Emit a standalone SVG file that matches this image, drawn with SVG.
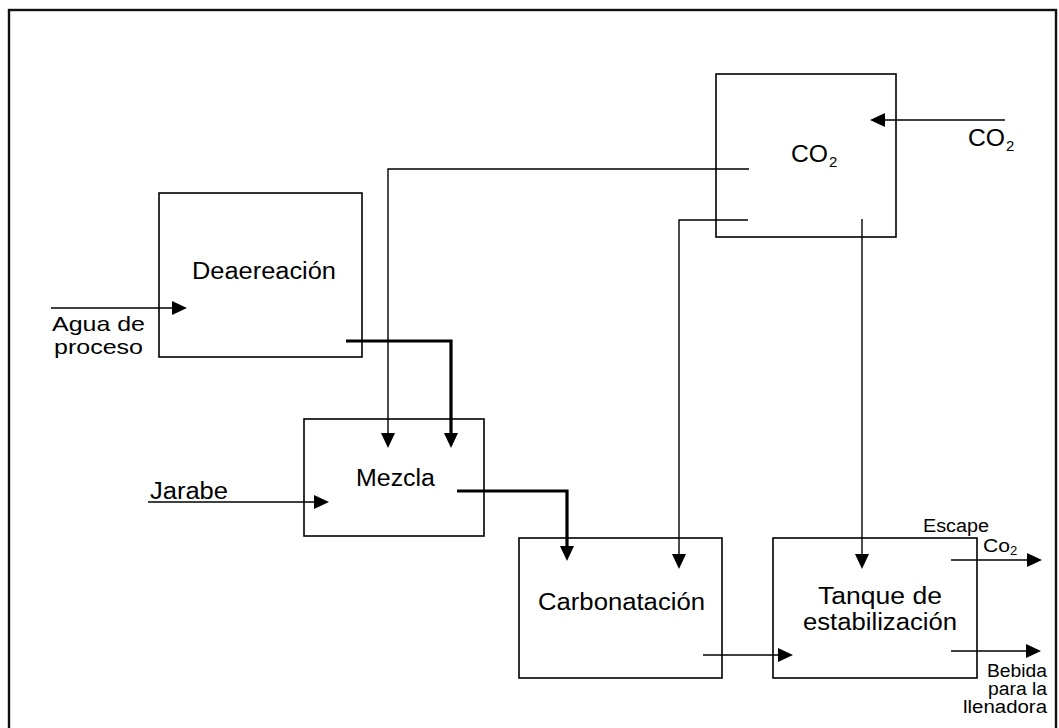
<svg xmlns="http://www.w3.org/2000/svg" width="1059" height="728" viewBox="0 0 1059 728">
<style>
.box{fill:none;stroke:#000;stroke-width:1.6}
.c{fill:none;stroke:#000;stroke-width:1.4}
.t{fill:none;stroke:#000;stroke-width:3.2}
.lbl{font-family:"Liberation Sans",Arial,sans-serif;font-size:23px;fill:#000}
.side{font-family:"Liberation Sans",Arial,sans-serif;font-size:21px;fill:#000}
.sm{font-family:"Liberation Sans",Arial,sans-serif;font-size:18px;fill:#000}
.sub{font-family:"Liberation Sans",Arial,sans-serif;font-size:15px;fill:#000}
.subs{font-family:"Liberation Sans",Arial,sans-serif;font-size:13px;fill:#000}
</style>
<defs>
<marker id="ah" markerUnits="userSpaceOnUse" markerWidth="16" markerHeight="16" refX="5" refY="7" orient="auto" viewBox="0 0 16 16">
<path d="M0,0 L15,7 L0,14 z" fill="#000"/>
</marker>
</defs>
<rect x="0" y="0" width="1059" height="728" fill="#fff"/>
<rect x="9" y="10" width="1047" height="730" fill="none" stroke="#111" stroke-width="2.4"/>

<g id="co2">
<rect class="box" x="716" y="74" width="180" height="163"/>
<text class="lbl" x="791" y="162" textLength="37" lengthAdjust="spacingAndGlyphs">CO</text>
<text class="sub" x="829" y="167">2</text>
</g>
<g id="deaereacion">
<rect class="box" x="159" y="193" width="203" height="164"/>
<text class="lbl" x="192" y="279" textLength="144" lengthAdjust="spacingAndGlyphs">Deaereación</text>
</g>
<g id="mezcla">
<rect class="box" x="304" y="419" width="180" height="117"/>
<text class="lbl" x="356" y="486" textLength="79" lengthAdjust="spacingAndGlyphs">Mezcla</text>
</g>
<g id="carbonatacion">
<rect class="box" x="519" y="538" width="203" height="140"/>
<text class="lbl" x="538" y="610" textLength="167" lengthAdjust="spacingAndGlyphs">Carbonatación</text>
</g>
<g id="tanque">
<rect class="box" x="773" y="538" width="204" height="140"/>
<text class="lbl" x="818" y="604" textLength="124" lengthAdjust="spacingAndGlyphs">Tanque de</text>
<text class="lbl" x="803" y="630" textLength="154" lengthAdjust="spacingAndGlyphs">estabilización</text>
</g>

<g id="connectors">
<line class="c" x1="1005" y1="120" x2="880" y2="120" marker-end="url(#ah)"/>
<polyline class="c" points="749,169 388,169 388,438" marker-end="url(#ah)"/>
<polyline class="c" points="748,220 679,220 679,559" marker-end="url(#ah)"/>
<line class="c" x1="862" y1="219" x2="862" y2="559" marker-end="url(#ah)"/>
<line class="c" x1="51" y1="308" x2="177" y2="308" marker-end="url(#ah)"/>
<polyline class="t" points="346,341 451,341 451,438" marker-end="url(#ah)"/>
<line class="c" x1="148" y1="502" x2="319" y2="502" marker-end="url(#ah)"/>
<polyline class="t" points="457,491 567,491 567,551" marker-end="url(#ah)"/>
<line class="c" x1="703" y1="655" x2="783" y2="655" marker-end="url(#ah)"/>
<line class="c" x1="951" y1="560" x2="1032" y2="560" marker-end="url(#ah)"/>
<line class="c" x1="951" y1="651" x2="1031" y2="651" marker-end="url(#ah)"/>
</g>

<g id="labels">
<text class="lbl" x="968" y="146" textLength="37" lengthAdjust="spacingAndGlyphs">CO</text>
<text class="sub" x="1006" y="151">2</text>
<text class="side" x="52" y="331" textLength="93" lengthAdjust="spacingAndGlyphs">Agua de</text>
<text class="side" x="54" y="354" textLength="89" lengthAdjust="spacingAndGlyphs">proceso</text>
<text class="lbl" x="150" y="499" textLength="78" lengthAdjust="spacingAndGlyphs">Jarabe</text>
<text class="sm" x="923" y="532" textLength="66" lengthAdjust="spacingAndGlyphs">Escape</text>
<text class="sm" x="983" y="552" textLength="27" lengthAdjust="spacingAndGlyphs">Co</text>
<text class="subs" x="1010" y="555">2</text>
<text class="sm" x="987" y="677" textLength="60" lengthAdjust="spacingAndGlyphs">Bebida</text>
<text class="sm" x="988" y="695" textLength="59" lengthAdjust="spacingAndGlyphs">para la</text>
<text class="sm" x="963" y="713" textLength="84" lengthAdjust="spacingAndGlyphs">llenadora</text>
</g>
</svg>
